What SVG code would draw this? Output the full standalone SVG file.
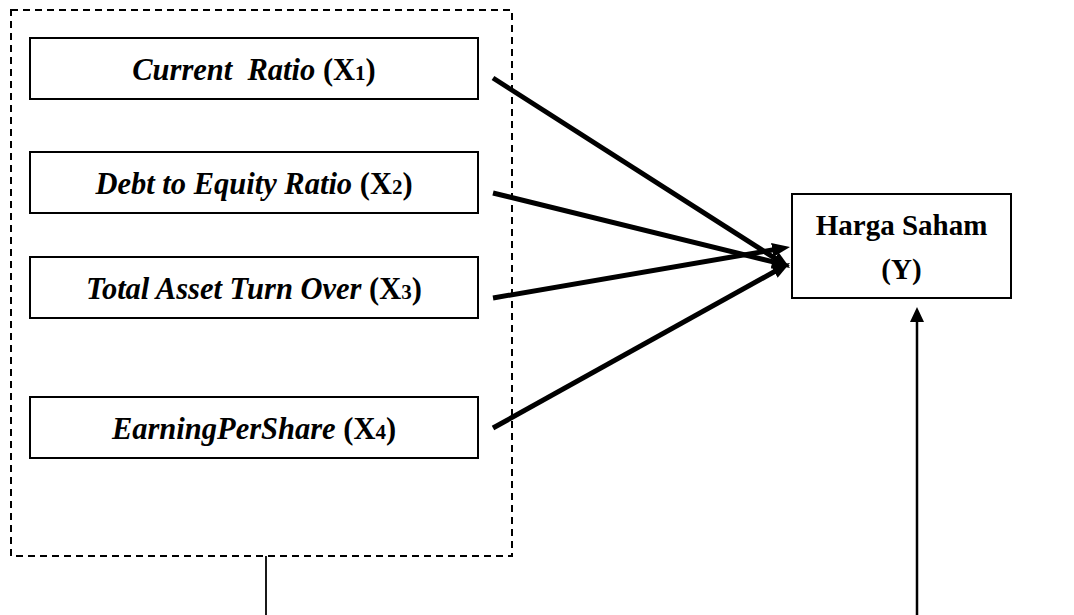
<svg xmlns="http://www.w3.org/2000/svg" width="1074" height="615" viewBox="0 0 1074 615">
  <style>
    .box { fill: #fff; stroke: #000; stroke-width: 2; }
    .group { fill: none; stroke: #000; stroke-width: 2; stroke-dasharray: 7 5; }
    .lbl { font-family: "Liberation Serif", "Times New Roman", serif; font-size: 30.5px; fill: #000; text-anchor: middle; white-space: pre; }
    .rt { font-size: 29px; font-weight: bold; }
    .it { font-style: italic; font-weight: bold; }
    .bd { font-weight: bold; }
    .sub { font-size: 21px; font-weight: bold; }
    .thick { stroke: #000; stroke-width: 5; fill: none; marker-end: url(#head); }
    .thin { stroke: #000; stroke-width: 1.8; fill: none; }
  </style>
  <defs>
    <marker id="head" markerUnits="userSpaceOnUse" markerWidth="20" markerHeight="16" refX="6" refY="7" orient="auto">
      <path d="M0,0 L18,7 L0,14 Z" fill="#000"/>
    </marker>
  </defs>
  <rect width="1074" height="615" fill="#fff"/>

  <!-- independent variables grouped in a dashed frame -->
  <rect id="frame" class="group" x="11" y="10" width="501" height="546"/>

  <g id="x1">
    <rect class="box" x="30" y="38" width="448" height="61"/>
    <text class="lbl" x="254" y="80"><tspan class="it">Current  Ratio</tspan><tspan class="bd"> (X</tspan><tspan class="sub">1</tspan><tspan class="bd">)</tspan></text>
  </g>
  <g id="x2">
    <rect class="box" x="30" y="152" width="448" height="61"/>
    <text class="lbl" x="254" y="194"><tspan class="it">Debt to Equity Ratio</tspan><tspan class="bd"> (X</tspan><tspan class="sub">2</tspan><tspan class="bd">)</tspan></text>
  </g>
  <g id="x3">
    <rect class="box" x="30" y="257" width="448" height="61"/>
    <text class="lbl" x="254" y="299"><tspan class="it">Total Asset Turn Over</tspan><tspan class="bd"> (X</tspan><tspan class="sub">3</tspan><tspan class="bd">)</tspan></text>
  </g>
  <g id="x4">
    <rect class="box" x="30" y="397" width="448" height="61"/>
    <text class="lbl" x="254" y="439"><tspan class="it">EarningPerShare</tspan><tspan class="bd"> (X</tspan><tspan class="sub">4</tspan><tspan class="bd">)</tspan></text>
  </g>

  <g id="y">
    <rect class="box" x="792" y="194" width="219" height="104"/>
    <text class="lbl rt" x="901.5" y="235">Harga Saham</text>
    <text class="lbl rt" x="901.5" y="279">(Y)</text>
  </g>

  <g id="connectors">
    <line class="thick" x1="493" y1="78" x2="779.9" y2="261.5"/>
    <line class="thick" x1="493" y1="193" x2="778.3" y2="263.1"/>
    <line class="thick" x1="493" y1="298" x2="778.2" y2="249"/>
    <line class="thick" x1="493" y1="428" x2="779.5" y2="268.8"/>
    <line class="thin" x1="266" y1="556" x2="266" y2="615"/>
    <line class="thin" x1="917" y1="615" x2="917" y2="321" style="stroke-width:2.5"/>
    <path d="M910,322 L917,307 L924,322 Z" fill="#000"/>
  </g>
</svg>
